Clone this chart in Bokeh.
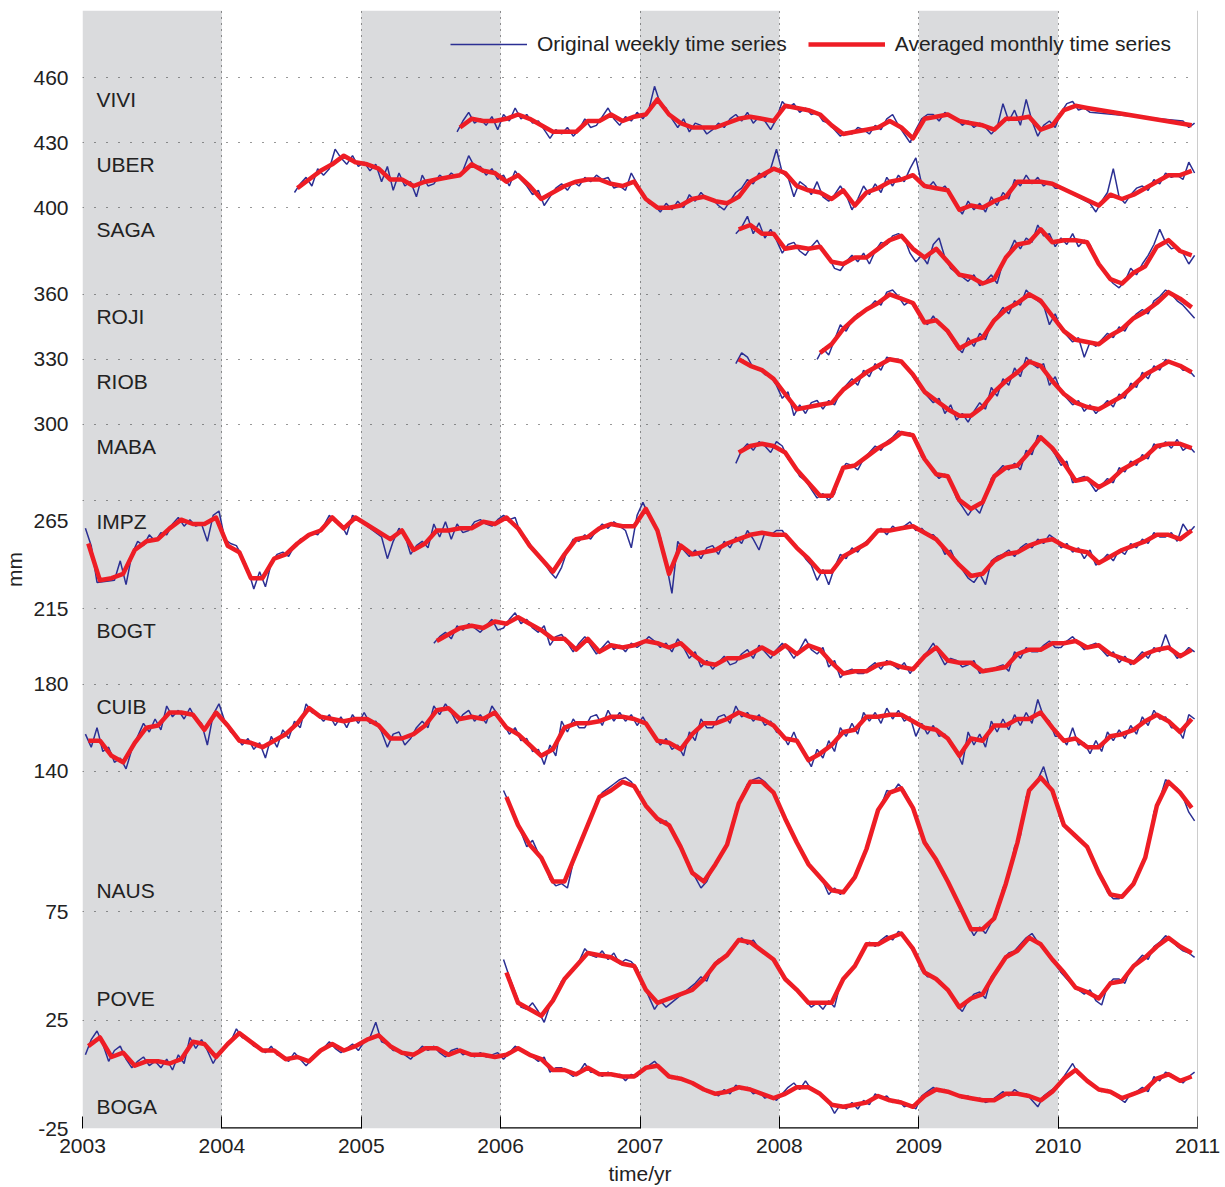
from bokeh.plotting import figure
from bokeh.models import FixedTicker, BoxAnnotation, Legend, LegendItem, Span
from bokeh.core.properties import value
from bokeh.embed import file_html
from bokeh.resources import INLINE

FONT = "Liberation Sans"

# ---------------- data ----------------
stations = ["VIVI", "UBER", "SAGA", "ROJI", "RIOB", "MABA", "IMPZ", "BOGT", "CUIB", "NAUS", "POVE", "BOGA"]
# first month of each record: (year, month index 0..11)
starts = {"VIVI": (2005, 8), "UBER": (2004, 6), "SAGA": (2007, 8), "ROJI": (2008, 3),
          "RIOB": (2007, 8), "MABA": (2007, 8), "IMPZ": (2003, 0), "BOGT": (2005, 6),
          "CUIB": (2003, 0), "NAUS": (2006, 0), "POVE": (2006, 0), "BOGA": (2003, 0)}

years = [2003, 2004, 2005, 2006, 2007, 2008, 2009, 2010, 2011]
shaded_years = [2003, 2005, 2007, 2009]
ytick_values = [-25, 25, 75, 140, 180, 215, 265, 300, 330, 360, 400, 430, 460]
ytick_labels = ["-25", "25", "75", "140", "180", "215", "265", "300", "330", "360", "400", "430", "460"]

# monthly averages (one value per month, None = no data)
VIVI_monthly = [437, 441, 440, 440,
                441, 443, 441, 438, 435, 435, 435, 440, 440, 443, 440, 442,
                443, 450, 443, 439, 437, 437, 437, 439, 441, 442, 441, 440,
                447, 446, 445, 443, 438, 434, 435, 436, 437, 440, 437, 432,
                441, 442, 443, 440, 439, 438, 436, 441, 441, 442, 436, 438,
                445, 447, 446, None, None, None, None, None, None, None, None, 438]
UBER_monthly = [409, 413, 417, 420, 424, 421,
                420, 418, 413, 413, 410, 412, 413, 414, 415, 420, 417, 416,
                412, 415, 410, 404, 407, 410, 412, 413, 413, 411, 410, 412,
                404, 400, 400, 401, 404, 405, 403, 402, 405, 412, 415, 418,
                416, 410, 408, 407, 404, 408, 401, 407, 409, 412, 413, 415,
                410, 409, 408, 399, 401, 400, 403, 405, 412, 412, 412, 411,
                None, None, None, 401, 406, 404, 406, 409, 412, 415, 415, 417]
SAGA_monthly = [390, 392, 388, 388,
                381, 382, 381, 382, 375, 374, 377, 377, 381, 385, 387, 381,
                377, 381, 375, 369, 368, 365, 367, 377, 383, 384, 390, 384,
                385, 385, 384, 374, 367, 365, 370, 373, 382, 385, 380, 378]
ROJI_monthly = [333, 337, 344, 349, 353, 356, 360, 358, 356,
                347, 348, 343, 335, 338, 340, 348, 353, 356, 360, 357, 350,
                343, 339, 338, 337, 341, 344, 349, 352, 356, 361, 358, 354]
RIOB_monthly = [330, 327, 325, 321,
                314, 307, 308, 309, 310, 316, 320, 324, 327, 330, 329, 323,
                315, 311, 307, 304, 304, 308, 315, 320, 324, 329, 327, 320,
                314, 310, 308, 307, 310, 313, 318, 323, 326, 329, 327, 324]
MABA_monthly = [287, 290, 291, 290,
                287, 279, 273, 267, 267, 280, 281, 285, 289, 292, 296, 295,
                284, 277, 276, 265, 261, 264, 276, 280, 281, 287, 294, 289,
                282, 274, 275, 271, 274, 279, 282, 285, 290, 291, 291, 289]
IMPZ_monthly = [245, 228, 229, 231, 242, 246, 247, 252, 256, 254, 254, 257,
                244, 241, 229, 229, 238, 240, 245, 249, 251, 257, 252, 257,
                None, None, 247, 251, 242, 245, 251, 251, 252, 252, 255, 254,
                257, 252, 244, 238, 232, 240, 247, 248, 252, 254, 253, 253,
                261, 251, 231, 244, 240, 241, 242, 245, 247, 249, 250, 249,
                249, 243, 238, 232, 232, 239, 242, 245, 251, 251, 252, 253,
                250, 247, 241, 235, 230, 231, 237, 240, 241, 244, 246, 247,
                244, 242, 241, 236, 239, 242, 244, 246, 249, 249, 247, 251]
BOGT_monthly = [200, 203, 206, 207, 206, 209,
                208, 211, 208, 205, 201, 201, 196, 201, 195, 198, 197, 198,
                200, 199, 197, 199, 194, 190, 189, 192, 192, 194, 197, 194,
                198, 194, 198, 196, 190, 185, 186, 186, 189, 190, 188, 187,
                193, 197, 191, 190, 190, 186, 187, 188, 194, 196, 196, 199,
                199, 200, 197, 198, 194, 192, 190, 194, 196, 197, 193, 196]
CUIB_monthly = [154, 154, 147, 144, 153, 160, 161, 167, 167, 166, 159, 167,
                161, 154, 153, 151, 154, 157, 162, 169, 165, 164, 163, 164,
                164, 161, 155, 155, 157, 161, 168, 169, 164, 165, 164, 167,
                160, 157, 152, 147, 150, 160, 162, 162, 163, 165, 165, 164,
                162, 154, 153, 150, 157, 162, 162, 164, 167, 165, 164, 161,
                155, 154, 145, 148, 152, 158, 159, 165, 165, 166, 166, 163,
                160, 159, 155, 147, 155, 154, 161, 161, 164, 164, 167, 160,
                154, 155, 151, 151, 156, 157, 159, 163, 166, 163, 158, 164]
NAUS_monthly = [128, 115, 106, 100, 89, 89, 102, 115, 128, 131, 135, 133,
                124, 118, 115, 105, 93, 89, 97, 106, 125, 135, 135, 130,
                118, 107, 97, 91, 85, 84, 91, 104, 122, 130, 132, 123,
                107, 99, 89, 78, 67, 67, 72, 88, 107, 131, 137, 131,
                115, 110, 105, 93, 83, 82, 88, 100, 124, 135, 130, 123]
POVE_monthly = [47, 33, 30, 27, 34, 44, 50, 56, 55, 54, 51, 50,
                39, 33, None, None, 39, 44, 51, 55, 62, 61, 57, 53,
                44, 39, 33, 33, 33, 44, 50, 60, 60, 63, 65, 58,
                47, 44, 39, 31, 35, 37, 46, 54, 57, 63, 60, 53,
                47, 40, 38, 35, 42, 43, 50, 54, 59, 63, 59, 56]
BOGA_monthly = [13, 17, 8, 10, 4, 6, 6, 5, 7, 15, 14, 8,
                14, 19, 15, 11, 11, 7, 8, 6, 11, 14, 11, 13,
                16, 18, 13, 10, 9, 12, 12, 9, 11, 9, 9, 8,
                9, 12, 9, 7, 2, 2, 0, 3, 0, 0, -1, -1,
                3, 4, -1, -2, -4, -7, -9, -8, -6, -7, -9, -11,
                -9, -6, -6, -9, -14, -15, -14, -13, -10, -12, -13, -15,
                -10, -7, -8, -10, -11, -12, -12, -9, -9, -10, -12, -8,
                -2, 2, -3, -7, -8, -11, -9, -7, -2, 0, -3, -1]

# original series, two readings per month (None = no data)
VIVI_weekly = [435, 440, 444, 439, 441, 438, 442, 436,
               443, 440, 446, 441, 443, 439, 440, 436, 432, 436, 434, 437, 433, 436, 441, 437, 438, 442, 446, 441, 438, 442, 440, 444,
               441, 445, 456, 448, 446, 441, 437, 441, 435, 439, 438, 434, 436, 439, 437, 441, 443, 440, 444, 439, 442, 440, 436, 441,
               449, 446, 448, 444, 446, 443, 444, 440, 439, 436, 433, 435, 434, 437, 436, 434, 438, 436, 441, 443, 438, 434, 430, 436,
               441, 443, 443, 440, 444, 442, 441, 438, 440, 437, 439, 437, 434, 437, 448, 440, 445, 438, 450, 440, 433, 438, 440, 437,
               444, 448, 449, 445, 446, 444, None, None, None, None, None, None, None, None, None, None, None, None, None, None, None, 440, 437, 439]
UBER_weekly = [407, 411, 414, 410, 418, 415, 418, 427, 423, 420, 424, 419,
               421, 417, 420, 412, 419, 408, 416, 410, 412, 405, 415, 410, 411, 415, 413, 416, 414, 417, 424, 419, 419, 415, 418, 413,
               415, 410, 417, 413, 410, 406, 408, 401, 405, 409, 411, 408, 412, 410, 414, 412, 415, 413, 414, 409, 410, 408, 416, 411,
               406, 402, 401, 398, 402, 399, 403, 400, 406, 403, 407, 404, 404, 401, 399, 403, 407, 409, 413, 411, 416, 414, 418, 427,
               416, 414, 405, 412, 410, 406, 412, 405, 403, 406, 410, 406, 399, 404, 410, 406, 411, 407, 414, 410, 415, 412, 418, 423,
               411, 409, 412, 408, 410, 406, 401, 397, 403, 399, 402, 398, 405, 401, 407, 404, 413, 410, 415, 411, 414, 410, 412, 409,
               409, None, None, None, None, 402, 398, 403, 407, 418, 405, 402, 406, 409, 410, 408, 413, 411, 416, 414, 415, 413, 421, 416]
SAGA_weekly = [388, 391, 396, 388, 393, 386, 390, 385,
               379, 383, 384, 380, 378, 382, 385, 380, 377, 372, 371, 375, 378, 375, 379, 374, 380, 384, 383, 387, 388, 386, 379, 375,
               378, 374, 383, 386, 377, 372, 370, 368, 366, 369, 364, 366, 369, 365, 375, 379, 385, 381, 386, 384, 392, 387, 388, 382,
               386, 383, 388, 382, 385, 383, 376, 372, 368, 365, 363, 366, 372, 369, 374, 378, 383, 390, 384, 381, 382, 379, 374, 378]
ROJI_weekly = [330, 335, 332, 339, 346, 343, 348, 351, 352, 354, 357, 355, 361, 362, 359, 355, 357, 353,
               349, 346, 350, 346, 344, 340, 336, 333, 340, 336, 342, 339, 347, 350, 354, 351, 357, 355, 362, 359, 357, 355, 346, 351,
               344, 341, 338, 340, 331, 338, 336, 339, 342, 340, 345, 343, 348, 351, 353, 351, 357, 359, 362, 360, 357, 355, 352, 349]
RIOB_weekly = [328, 333, 331, 326, 326, 323, 322, 318,
               312, 315, 304, 309, 305, 310, 311, 307, 311, 309, 315, 318, 321, 318, 325, 322, 328, 325, 331, 330, 330, 327, 324, 320,
               316, 313, 310, 312, 305, 309, 302, 305, 301, 306, 310, 307, 317, 313, 321, 318, 326, 322, 331, 328, 326, 328, 318, 322,
               315, 312, 309, 311, 306, 309, 305, 308, 311, 308, 314, 312, 319, 317, 324, 321, 327, 325, 330, 328, 328, 325, 325, 322]
MABA_weekly = [282, 288, 291, 288, 292, 290, 287, 292,
               290, 284, 281, 276, 274, 270, 266, 268, 265, 268, 278, 282, 281, 279, 284, 287, 290, 288, 292, 294, 297, 296, 296, 292,
               285, 282, 278, 275, 277, 273, 266, 262, 258, 262, 259, 266, 275, 278, 281, 279, 282, 279, 288, 286, 295, 292, 290, 286,
               281, 283, 273, 275, 276, 273, 269, 272, 275, 273, 280, 278, 283, 281, 286, 284, 291, 289, 292, 289, 293, 288, 290, 287]
IMPZ_weekly = [252, 244, 227, None, None, 228, 237, 226, 240, 246, 244, 249, 246, 250, 249, 254, 257, 253, 256, 253, 254, 246, 258, 260,
               247, 245, 244, 239, 233, 224, 232, 225, 236, 240, 241, 239, 244, 247, 248, 250, 249, 253, 258, 255, 254, 249, 258, 256,
               None, None, None, 248, 238, 246, 252, 249, 240, 244, 246, 243, 254, 248, 255, 247, 254, 250, 251, 255, 256, 254, 253, 256,
               258, 256, 257, 249, 247, 243, 240, 236, 232, 229, 234, 242, 247, 246, 249, 247, 251, 254, 252, 255, 253, 251, 243, 258,
               264, 258, 254, 248, 236, 222, 246, 242, 239, 242, 238, 243, 244, 240, 246, 243, 248, 245, 251, 247, 242, 250, 249, 251,
               251, 247, 245, 242, 238, 235, 228, 233, 226, 234, 240, 238, 243, 241, 245, 247, 250, 252, 249, 253, 251, 253, 255, 251,
               252, 249, 249, 246, 240, 242, 236, 233, 229, 227, 231, 226, 237, 239, 240, 242, 239, 243, 245, 243, 247, 245, 249, 247,
               243, 245, 241, 243, 238, 242, 235, 237, 240, 237, 242, 240, 245, 243, 247, 245, 250, 248, 248, 250, 246, 254, 250, 253]
BOGT_weekly = [199, 202, 204, 201, 207, 205, 208, 206, 204, 207, 210, 205,
               206, 210, 213, 208, 210, 206, 204, 207, 198, 202, 203, 199, 195, 199, 202, 198, 194, 197, 200, 196, 198, 195, 199, 197,
               199, 202, 200, 197, 199, 195, 201, 197, 192, 195, 188, 191, 187, 190, 193, 189, 190, 194, 196, 192, 198, 195, 192, 196,
               199, 196, 192, 196, 201, 196, 194, 197, 188, 191, 183, 186, 187, 185, 185, 188, 190, 187, 191, 189, 187, 190, 185, 189,
               192, 195, 199, 194, 189, 192, 191, 188, 189, 191, 185, 187, 186, 188, 189, 186, 195, 192, 197, 195, 195, 198, 200, 197,
               197, 200, 202, 199, 196, 198, 199, 196, 193, 195, 190, 193, 189, 192, 195, 192, 197, 195, 203, 196, 192, 194, 197, 195]
CUIB_weekly = [157, 151, 160, 149, 151, 144, 146, 141, 150, 156, 162, 158, 164, 159, 170, 165, 168, 164, 169, 164, 162, 152, 166, 171,
               163, 158, 156, 152, 155, 150, 153, 146, 156, 151, 159, 155, 163, 160, 171, 167, 166, 163, 166, 161, 165, 160, 166, 162,
               167, 162, 163, 158, 151, 157, 158, 152, 155, 160, 163, 160, 170, 166, 171, 167, 162, 166, 168, 163, 166, 162, 170, 166,
               162, 157, 160, 154, 155, 149, 150, 143, 152, 147, 163, 158, 164, 160, 160, 165, 166, 161, 168, 163, 167, 163, 166, 161,
               165, 160, 156, 152, 155, 150, 152, 147, 158, 154, 164, 160, 160, 165, 166, 162, 170, 165, 167, 163, 166, 161, 163, 158,
               157, 152, 158, 151, 147, 142, 150, 146, 154, 149, 160, 156, 162, 157, 167, 163, 167, 162, 169, 164, 168, 163, 165, 156,
               162, 157, 161, 156, 157, 152, 149, 143, 158, 152, 157, 151, 163, 158, 164, 159, 166, 161, 167, 162, 173, 165, 163, 156,
               156, 152, 160, 152, 153, 148, 154, 149, 158, 154, 159, 155, 161, 157, 165, 161, 168, 164, 165, 160, 160, 155, 166, 164]
NAUS_weekly = [131, 125, 118, 112, 105, 108, 102, 98, 90, 87, 88, 86, 98, 104, 112, 118, 126, 130, 132, 134, 136, 137, 135, 131,
               126, 122, 120, 116, 117, 113, 108, 103, 95, 91, 86, 89, 95, 99, 104, 110, 122, 128, 134, 136, 137, 135, 132, 128,
               121, 116, 110, 105, 100, 95, 92, 89, 83, 86, 83, 86, 89, 94, 101, 107, 119, 124, 131, 130, 134, 131, 126, 120,
               110, 106, 101, 97, 91, 87, 80, 76, 69, 64, 68, 65, 70, 74, 86, 91, 105, 110, 128, 133, 136, 142, 133, 127,
               117, 113, 111, 108, 106, 102, 95, 91, 84, 81, 81, 84, 87, 91, 98, 104, 121, 127, 136, 134, 132, 128, 121, 117]
POVE_weekly = [53, 45, 38, 31, 30, 33, 29, 24, 32, 37, 43, 46, 49, 52, 58, 55, 54, 57, 53, 56, 51, 53, 52, 49,
               42, 36, 30, 34, 31, None, None, None, None, 42, 45, 43, 50, 53, 54, 57, 61, 63, 60, 62, 58, 56, 54, 51,
               46, 42, 40, 37, 34, 31, 33, 30, 34, 31, 42, 45, 49, 52, 58, 61, 59, 62, 64, 62, 66, 64, 59, 55,
               48, 45, 45, 42, 40, 37, 32, 29, 34, 37, 38, 35, 45, 48, 53, 56, 57, 60, 63, 65, 61, 59, 54, 51,
               47, 44, 41, 39, 37, 39, 34, 32, 41, 44, 44, 42, 49, 52, 55, 53, 59, 61, 64, 62, 59, 57, 56, 54]
BOGA_weekly = [9, 16, 20, 14, 6, 11, 13, 7, 3, 6, 8, 4, 6, 3, 7, 2, 9, 5, 17, 12, 16, 11, 5, 10,
               12, 15, 21, 17, 16, 13, 12, 10, 13, 9, 8, 6, 10, 7, 4, 7, 10, 12, 15, 12, 10, 12, 14, 11,
               15, 17, 24, 15, 14, 11, 11, 9, 7, 10, 13, 11, 13, 10, 8, 11, 12, 9, 10, 8, 10, 8, 9, 10,
               7, 10, 13, 11, 10, 8, 6, 8, 1, 3, 3, 1, -1, 1, 5, 1, 1, -1, 1, -1, 0, -3, 0, -1,
               2, 4, 6, 3, 0, -2, -1, -3, -3, -5, -6, -8, -8, -10, -7, -9, -5, -7, -6, -9, -8, -11, -10, -12,
               -9, -6, -4, -7, -3, -7, -8, -10, -13, -18, -14, -16, -13, -16, -12, -14, -9, -11, -10, -13, -12, -15, -14, -16,
               -10, -8, -6, -8, -7, -9, -9, -11, -10, -12, -11, -13, -12, -10, -8, -10, -7, -9, -9, -12, -15, -10, -8, -6,
               -3, 1, 5, 0, -2, -4, -6, -8, -7, -9, -11, -13, -9, -8, -6, -8, -1, -3, 1, 0, -2, -4, -1, 1]

monthly = {"VIVI": VIVI_monthly, "UBER": UBER_monthly, "SAGA": SAGA_monthly, "ROJI": ROJI_monthly,
           "RIOB": RIOB_monthly, "MABA": MABA_monthly, "IMPZ": IMPZ_monthly, "BOGT": BOGT_monthly,
           "CUIB": CUIB_monthly, "NAUS": NAUS_monthly, "POVE": POVE_monthly, "BOGA": BOGA_monthly}
weekly = {"VIVI": VIVI_weekly, "UBER": UBER_weekly, "SAGA": SAGA_weekly, "ROJI": ROJI_weekly,
          "RIOB": RIOB_weekly, "MABA": MABA_weekly, "IMPZ": IMPZ_weekly, "BOGT": BOGT_weekly,
          "CUIB": CUIB_weekly, "NAUS": NAUS_weekly, "POVE": POVE_weekly, "BOGA": BOGA_weekly}

# ---------------- layout / style ----------------
label_y = [450, 420, 390, 350, 320, 290, 255, 205, 170, 85, 35, -15]
# the "265" tick label sits lower than its grid line in the original
ytick_label_pos = [-25, 25, 75, 140, 180, 215, 255.5, 300, 330, 360, 400, 430, 460]
BLUE = "#2B2F93"
RED = "#EE1D25"
GRAY = "#DADBDD"
TXT = "#222222"
FS = "21px"


def monthly_xy(name):
    y0, m0 = starts[name]
    xs, ys = [], []
    for i, v in enumerate(monthly[name]):
        if v is None:
            continue
        xs.append(y0 + (m0 + i + 0.5) / 12.0)
        ys.append(v)
    return xs, ys


def weekly_xy(name):
    y0, m0 = starts[name]
    xs, ys = [], []
    for i, v in enumerate(weekly[name]):
        if v is None:
            continue
        xs.append(y0 + (m0 + i // 2 + 0.25 + 0.5 * (i % 2)) / 12.0)
        ys.append(v)
    return xs, ys


p = figure(width=1220, height=1187, x_range=(2003, 2011), y_range=(-25, 491),
           output_backend="svg", toolbar_location=None,
           min_border_left=82, min_border_right=23, min_border_top=10, min_border_bottom=59)
p.outline_line_color = None
p.background_fill_color = "white"

for yr in shaded_years:
    p.add_layout(BoxAnnotation(left=yr, right=yr + 1, fill_color=GRAY, fill_alpha=1.0,
                               line_color=None, level="image"))

# axes
p.xaxis.ticker = FixedTicker(ticks=years)
p.xaxis.axis_line_color = None
p.xaxis.major_tick_in = 12
p.xaxis.major_tick_out = 0
p.xaxis.major_tick_line_color = "black"
p.xaxis.minor_tick_line_color = None
p.xaxis.major_label_standoff = 10
p.xaxis.axis_label = "time/yr"
p.xaxis.axis_label_standoff = 6

p.yaxis.ticker = FixedTicker(ticks=ytick_label_pos)
p.yaxis.major_label_overrides = {pos: lab for pos, lab in zip(ytick_label_pos, ytick_labels)}
p.yaxis.axis_line_color = None
p.yaxis.major_tick_line_color = None
p.yaxis.minor_tick_line_color = None
p.yaxis.major_label_standoff = 8
p.yaxis.axis_label = "mm"
p.yaxis.axis_label_standoff = 4

for ax in (p.xaxis[0], p.yaxis[0]):
    ax.major_label_text_font = FONT
    ax.major_label_text_font_size = FS
    ax.major_label_text_color = TXT
    ax.axis_label_text_font = FONT
    ax.axis_label_text_font_size = FS
    ax.axis_label_text_font_style = "normal"
    ax.axis_label_text_color = TXT

p.xgrid.grid_line_color = "#333333"
p.xgrid.grid_line_dash = "1 5"
p.xgrid.grid_line_width = 1
p.ygrid.ticker = FixedTicker(ticks=ytick_values)
p.ygrid.grid_line_color = "#333333"
p.ygrid.grid_line_dash = "1 11"
p.ygrid.grid_line_width = 1

# bottom axis line only where the band is white
white_years = [y for y in years[:-1] if y not in shaded_years]
p.segment(x0=white_years, y0=[-25] * len(white_years), x1=[y + 1 for y in white_years],
          y1=[-25] * len(white_years), line_color="black", line_width=2.5)
p.add_layout(Span(location=2011, dimension="height", line_color="#9a9a9a", line_width=1))

blue_r = []
red_r = []
for name in stations:
    bx, by = weekly_xy(name)
    blue_r.append(p.line(bx, by, line_color=BLUE, line_width=1.5))
for name in stations:
    mx, my = monthly_xy(name)
    red_r.append(p.line(mx, my, line_color=RED, line_width=4.5, line_join="round"))

p.text(x=[2003.1] * len(stations), y=label_y, text=stations, text_font=value(FONT),
       text_font_size=FS, text_color=TXT, text_baseline="middle", text_align="left")

legend = Legend(items=[LegendItem(label="Original weekly time series", renderers=[blue_r[0]]),
                       LegendItem(label="Averaged monthly time series", renderers=[red_r[0]])],
                orientation="horizontal", location=(368, 1072), glyph_width=77, glyph_height=20,
                label_standoff=10, spacing=21, padding=0, margin=0,
                border_line_alpha=0, background_fill_alpha=0,
                label_text_font=FONT, label_text_font_size=FS, label_text_color=TXT)
p.add_layout(legend)

open("out.html", "w").write(file_html(p, INLINE))
